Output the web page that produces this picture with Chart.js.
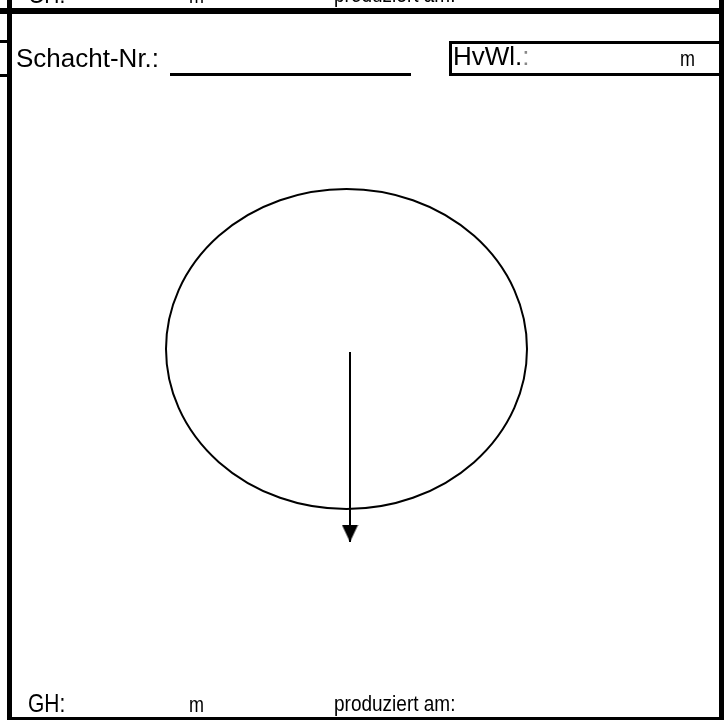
<!DOCTYPE html>
<html>
<head>
<meta charset="utf-8">
<script src="https://cdn.jsdelivr.net/npm/chart.js@4"></script>
<style>
  html, body { margin: 0; padding: 0; background: #fff; }
  #page { position: relative; width: 726px; height: 720px; overflow: hidden; background: #fff; }
  #plan { position: absolute; left: 0; top: 0; }
  .ln { position: absolute; background: #000; }
  .tx { position: absolute; height: 0; line-height: 0; white-space: nowrap; color: #000;
        font-family: "Liberation Sans", Arial, Helvetica, sans-serif; }
  .st { transform-origin: 0 0.3465em; transform: scaleY(1.2); }
</style>
</head>
<body>
<div id="page">
  <canvas id="plan" width="726" height="720"></canvas>

  <!-- form frame -->
  <div class="ln" style="left:7px;top:0;width:5px;height:720px"></div>
  <div class="ln" style="left:719px;top:0;width:5px;height:720px"></div>
  <div class="ln" style="left:0;top:8px;width:724px;height:6px"></div>
  <div class="ln" style="left:7px;top:717px;width:717px;height:3px"></div>
  <div class="ln" style="left:0;top:40px;width:7px;height:3px"></div>
  <div class="ln" style="left:0;top:74px;width:7px;height:3px"></div>
  <div class="ln" style="left:449px;top:41px;width:270px;height:3px"></div>
  <div class="ln" style="left:449px;top:73px;width:270px;height:3px"></div>
  <div class="ln" style="left:449px;top:41px;width:3px;height:35px"></div>
  <div class="ln" style="left:170px;top:73px;width:241px;height:3px"></div>

  <!-- form texts (top row is cut by the page edge) -->
  <div class="tx st" style="left:28px;top:-4.3px;font-size:21px">GH:</div>
  <div class="tx st" style="left:189px;top:-3.2px;font-size:18px">m</div>
  <div class="tx st" style="left:334px;top:-3.6px;font-size:19px">produziert am:</div>

  <div class="tx" style="left:16px;top:58px;font-size:26px">Schacht-Nr.:</div>
  <div class="tx" style="left:453px;top:56px;font-size:26px">HvWl.<span style="color:#888">:</span></div>
  <div class="tx st" style="left:680px;top:59.8px;font-size:18px">m</div>

  <div class="tx st" style="left:28px;top:704.7px;font-size:21px">GH:</div>
  <div class="tx st" style="left:189px;top:705.8px;font-size:18px">m</div>
  <div class="tx st" style="left:334px;top:705.4px;font-size:19px">produziert am:</div>
</div>

<script>
// ---- data (plan view of the manhole, in drawing units) ----
const ellipseCenter = [346.5, 349];   // x, y of the shaft outline centre
const ellipseRadius = [180.5, 160];   // horizontal, vertical radius
const arrowX = [350, 350];            // flow arrow: start, end
const arrowY = [352, 542];
const planWidth = 726;                // extent of the drawing axes
const planHeight = 720;

// arrow head as a custom point style (tip at the data point)
const head = document.createElement('canvas');
head.width = 17; head.height = 34;
(function () {
  const c = head.getContext('2d');
  c.fillStyle = '#000';
  c.beginPath();
  c.moveTo(0.5, 0); c.lineTo(16.5, 0); c.lineTo(8.5, 17); c.closePath();
  c.fill();
})();

const ellipsePlugin = {
  id: 'shaftOutline',
  beforeDatasetsDraw(chart) {
    const xs = chart.scales.x, ys = chart.scales.y, ctx = chart.ctx;
    const cx = xs.getPixelForValue(ellipseCenter[0]);
    const cy = ys.getPixelForValue(ellipseCenter[1]);
    const rx = Math.abs(xs.getPixelForValue(ellipseCenter[0] + ellipseRadius[0]) - cx);
    const ry = Math.abs(ys.getPixelForValue(ellipseCenter[1] + ellipseRadius[1]) - cy);
    ctx.save();
    ctx.strokeStyle = '#000';
    ctx.lineWidth = 2;
    ctx.beginPath();
    ctx.ellipse(cx, cy, rx, ry, 0, 0, Math.PI * 2);
    ctx.stroke();
    ctx.restore();
  }
};

new Chart(document.getElementById('plan'), {
  type: 'scatter',
  data: {
    datasets: [
      {
        type: 'line',
        data: arrowX.map((x, i) => ({ x, y: arrowY[i] })),
        borderColor: '#000',
        borderWidth: 2,
        pointRadius: 0,
        fill: false
      },
      {
        data: [{ x: arrowX[1], y: arrowY[1] }],
        pointStyle: head,
        pointRadius: 8,
        backgroundColor: '#000',
        borderWidth: 0
      }
    ]
  },
  options: {
    responsive: false,
    animation: false,
    layout: { padding: 0, autoPadding: false },
    plugins: { legend: { display: false }, tooltip: { enabled: false } },
    scales: {
      x: { type: 'linear', min: 0, max: planWidth, display: false },
      y: { type: 'linear', min: 0, max: planHeight, reverse: true, display: false }
    }
  },
  plugins: [ellipsePlugin]
});
</script>
</body>
</html>
